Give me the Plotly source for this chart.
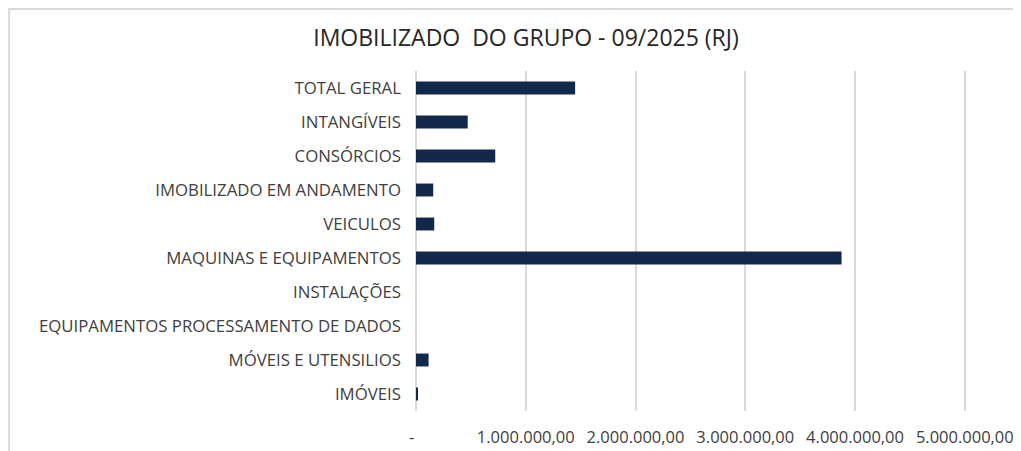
import plotly.graph_objects as go

categories = [
    "IMÓVEIS",
    "MÓVEIS E UTENSILIOS",
    "EQUIPAMENTOS PROCESSAMENTO DE DADOS",
    "INSTALAÇÕES",
    "MAQUINAS E EQUIPAMENTOS",
    "VEICULOS",
    "IMOBILIZADO EM ANDAMENTO",
    "CONSÓRCIOS",
    "INTANGÍVEIS",
    "TOTAL GERAL",
]
values = [15000, 115000, 0, 0, 3877000, 166000, 157000, 722000, 471000, 1450000]

tick_vals = [0, 1000000, 2000000, 3000000, 4000000, 5000000]
tick_text = ["-\u00a0\u00a0", "1.000.000,00", "2.000.000,00", "3.000.000,00", "4.000.000,00", "5.000.000,00"]

X_MAX = 5020000
# plot area in figure pixels
L, T, B = 408, 63, 403
R = L + 549 * X_MAX / 5000000
W, H = 1021, 451
pw, ph = R - L, B - T

fig = go.Figure(
    go.Bar(
        x=values,
        y=categories,
        orientation="h",
        marker=dict(color="#14284b", line=dict(width=0)),
        hoverinfo="x+y",
    )
)

fig.update_layout(
    width=W,
    height=H,
    paper_bgcolor="white",
    plot_bgcolor="white",
    margin=dict(l=L, r=W - R, t=T, b=H - B),
    bargap=0.62,
    showlegend=False,
    font=dict(family="Open Sans, Noto Sans, sans-serif", color="#404040"),
    title=dict(
        text="IMOBILIZADO  DO GRUPO - 09/2025 (RJ)",
        x=518 / W,
        xanchor="center",
        y=1 - 30 / H,
        yanchor="middle",
        font=dict(size=23, color="#262626", family="Open Sans, Noto Sans, sans-serif"),
    ),
    xaxis=dict(
        range=[0, X_MAX],
        tickvals=tick_vals,
        ticktext=tick_text,
        showgrid=True,
        gridcolor="#d9d9d9",
        gridwidth=1.5,
        zeroline=True,
        zerolinecolor="#d9d9d9",
        zerolinewidth=1.5,
        showline=False,
        ticks="",
        ticklabelstandoff=14,
        tickfont=dict(size=16.5, color="#404040"),
        fixedrange=True,
    ),
    yaxis=dict(
        categoryorder="array",
        categoryarray=categories,
        showgrid=False,
        zeroline=False,
        showline=False,
        ticks="",
        ticklabelstandoff=14,
        tickfont=dict(size=16.8, color="#404040"),
        fixedrange=True,
    ),
    shapes=[
        dict(type="line", xref="paper", yref="paper", x0=-L / pw, x1=(W - L) / pw,
             y0=1 + (T - 1) / ph, y1=1 + (T - 1) / ph,
             line=dict(color="#d9d9d9", width=2)),
        dict(type="line", xref="paper", yref="paper", x0=-(L - 1) / pw, x1=-(L - 1) / pw,
             y0=1 + (T - 1) / ph, y1=-(H - B) / ph,
             line=dict(color="#d9d9d9", width=2)),
    ],
)

fig.write_html("out.html")
